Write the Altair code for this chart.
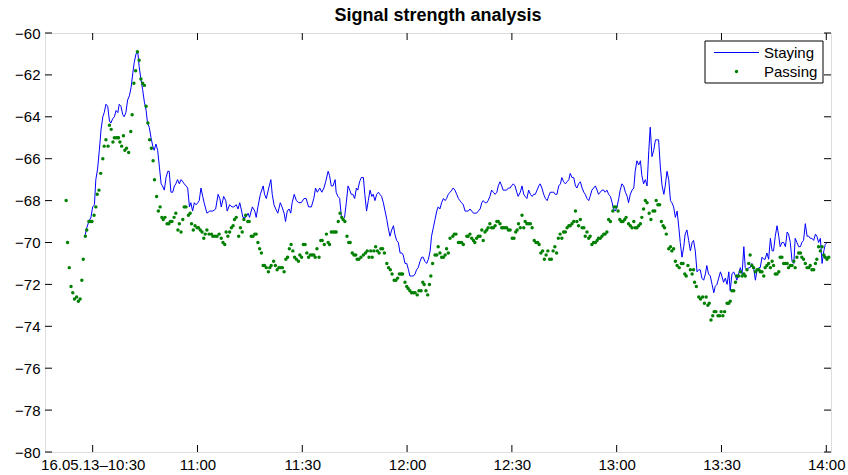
import altair as alt
import pandas as pd

title_text = "Signal strength analysis"
series_names = ["Staying", "Passing"]
series_colors = ["#0000ff", "#008000"]

# time in minutes after 16.05.13 10:30, signal strength in dBm
staying_min = [
    -2.2, -1.7, -1.1, -0.5, 0.0, 0.5, 0.9, 1.4, 1.9, 2.4,
    2.9, 3.3, 3.8, 4.3, 4.8, 5.2, 5.7, 6.2, 6.7, 7.2,
    7.6, 8.1, 8.6, 9.0, 9.5, 10.0, 10.5, 11.0, 11.5, 11.9,
    12.4, 12.9, 13.3, 13.8, 14.3, 14.8, 15.3, 15.7, 16.2, 16.7,
    17.2, 17.6, 18.1, 18.6, 19.1, 19.6, 20.0, 20.5, 21.0, 21.5,
    21.9, 22.4, 22.9, 23.4, 23.8, 24.3, 24.8, 25.3, 25.8, 26.2,
    26.7, 27.2, 27.7, 28.1, 28.6, 29.1, 29.6, 30.1, 30.5, 31.0,
    31.5, 31.9,
    32.7, 33.5, 34.4, 35.2, 35.9, 36.4, 36.8, 37.5, 38.1, 38.5,
    39.2, 39.9, 40.4, 41.1, 41.6, 42.1, 42.5, 43.0, 43.8, 44.5,
    44.9, 45.7, 46.4, 46.8, 47.3, 48.0, 48.8, 49.2, 49.7, 50.4,
    51.0, 51.4, 51.9, 52.4, 53.0, 53.7, 54.2, 54.8, 55.2, 55.7,
    56.2, 56.7, 57.1, 57.7, 58.3, 59.0, 59.7, 60.5, 61.1, 61.8,
    62.6, 63.3, 63.8, 64.3, 65.0, 65.6, 66.2, 66.7, 67.4, 67.8,
    68.3, 68.8, 69.4, 69.7, 70.2, 70.7, 71.2, 71.6, 72.1, 72.6,
    73.1, 73.6, 74.0, 74.5, 75.0, 75.5, 75.9, 76.4, 76.9,
    77.5, 77.9, 78.4, 78.9, 79.4, 79.9, 80.3, 80.8, 81.3, 81.8,
    82.2, 82.7, 83.2, 83.7, 84.2, 84.6, 85.1, 85.6, 86.1, 86.5,
    87.0, 87.5, 88.0, 88.5, 88.9, 89.4, 89.9, 90.4, 90.8, 91.3,
    91.8, 92.3, 92.7, 93.2, 93.7, 94.2, 94.6, 95.1, 95.6, 96.1,
    96.6, 97.0, 97.5, 98.0, 98.5, 98.9, 99.4, 99.9, 100.4, 100.9,
    101.3, 101.8, 102.3, 102.8, 103.2, 103.7, 104.2, 104.7, 105.1, 105.6,
    106.1, 106.6, 107.1, 107.5, 108.0, 108.5, 109.0, 109.4, 109.9, 110.4,
    110.9, 111.4, 111.8, 112.3, 112.8, 113.2, 113.7, 114.2, 114.7, 115.2,
    115.7, 116.1, 116.6, 117.1, 117.5, 118.0, 118.5, 119.0, 119.5, 119.9,
    120.4, 120.9, 121.4, 121.8,
    122.4, 122.9, 123.4, 123.8, 124.3, 124.8, 125.3, 125.8, 126.2, 126.7,
    127.2, 127.7, 128.1, 128.6, 129.1, 129.6, 130.1, 130.5, 131.0, 131.5,
    132.0, 132.4, 132.9, 133.4, 133.9, 134.3, 134.8, 135.3, 135.8, 136.3,
    136.7, 137.2, 137.7, 138.2, 138.6, 139.1, 139.6, 140.1, 140.6, 141.0,
    141.5, 142.0, 142.4, 142.9, 143.4, 143.9, 144.4, 144.8, 145.3, 145.8,
    146.3, 146.7, 147.2, 147.7, 148.2, 148.7, 149.1, 149.6, 150.1, 150.6,
    151.0, 151.5, 152.0, 152.5, 153.0, 153.4, 153.9, 154.4, 154.9, 155.3,
    155.8, 156.3, 156.8, 157.2, 157.7, 158.2, 158.7, 159.2, 159.6, 160.1,
    160.6, 161.1, 161.5, 162.0, 162.5, 163.0, 163.5, 163.9, 164.4, 164.9,
    165.4,
    165.8, 166.3, 166.8, 167.3, 167.8, 168.2, 168.7, 169.2, 169.6, 170.1,
    170.6, 171.1, 171.6, 172.0, 172.5, 173.0, 173.5, 173.9, 174.4, 174.9,
    175.4, 175.8, 176.3, 176.8, 177.3, 177.8, 178.2, 178.7, 179.2, 179.7,
    180.1, 180.6, 181.1, 181.6, 182.1, 182.5, 183.0, 183.5, 184.0, 184.4,
    184.9, 185.4, 185.9, 186.4, 186.8, 187.3, 187.8, 188.2, 188.7, 189.2,
    189.7, 190.2, 190.7, 191.1, 191.6, 192.1, 192.5, 193.0, 193.5, 194.0,
    194.5, 194.9, 195.4, 195.9, 196.4, 196.8, 197.3, 197.8, 198.3, 198.8,
    199.2, 199.7, 200.2, 200.7, 201.1, 201.6, 202.1, 202.6, 203.0, 203.5,
    204.0, 204.5, 205.0, 205.4, 205.9, 206.4, 206.9, 207.3, 207.8, 208.3,
    208.8, 209.3, 209.7, 210.2, 210.7, 211.2,
]
staying_dbm = [
    -69.7, -69.3, -69.0, -68.8, -68.3, -68.2, -67.0, -66.5, -65.6, -64.6,
    -64.0, -63.8, -63.4, -63.5, -64.2, -64.3, -64.1, -64.0, -63.7, -63.8,
    -63.4, -63.5, -63.9, -64.0, -63.8, -63.2, -63.0, -62.6, -61.9, -61.4,
    -61.0, -60.9, -61.6, -62.2, -62.7, -63.3, -63.7, -64.3, -64.5, -65.0,
    -65.4, -65.6, -65.3, -65.6, -66.4, -67.2, -67.3, -67.5, -66.9, -66.6,
    -66.6, -67.6, -67.6, -67.3, -67.2, -67.0, -67.2, -67.0, -67.1, -67.2,
    -67.3, -67.4, -68.3, -68.1, -68.5, -68.1, -68.2, -68.1, -68.0, -67.4,
    -67.8, -68.1,
    -68.6, -68.5, -68.5, -68.4, -67.7, -67.9, -68.3, -67.8, -68.0, -68.5,
    -68.2, -68.3, -68.3, -68.2, -68.4, -68.1, -68.4, -68.8, -68.8, -68.6,
    -68.8, -68.3, -68.5, -68.8, -68.3, -67.7, -67.3, -67.7, -67.9, -67.4,
    -67.0, -67.7, -68.2, -68.4, -68.6, -68.1, -68.3, -68.6, -69.0, -68.5,
    -68.4, -68.6, -68.1, -67.7, -68.0, -68.1, -68.1, -67.9, -67.9, -68.3,
    -68.3, -67.9, -67.4, -67.6, -67.4, -67.6, -67.4, -67.1, -66.6, -66.8,
    -67.3, -67.3, -67.0, -67.6, -67.8, -67.9, -68.8, -68.9, -68.8, -68.1,
    -67.3, -67.5, -67.7, -67.7, -67.9, -67.4, -67.5, -67.1, -66.9,
    -66.9, -67.7, -68.5, -68.0, -67.5, -67.8, -67.7, -68.0, -67.7, -67.6,
    -67.7, -67.8, -68.1, -68.5, -68.9, -69.3, -69.7, -69.4, -69.2, -69.6,
    -69.9, -70.0, -70.5, -70.5, -70.6, -71.0, -71.0, -71.3, -71.6, -71.6,
    -71.6, -71.5, -71.3, -71.2, -70.9, -70.7, -70.7, -70.9, -71.0, -70.8,
    -70.4, -69.7, -69.3, -68.9, -68.5, -68.3, -68.4, -68.1, -67.9, -68.0,
    -67.9, -67.7, -67.6, -67.5, -67.4, -67.5, -67.7, -67.9, -68.0, -68.1,
    -68.2, -68.5, -68.5, -68.5, -68.4, -68.5, -68.6, -68.6, -68.6, -68.5,
    -68.4, -68.1, -68.0, -68.1, -68.1, -68.0, -67.8, -67.5, -67.6, -67.7,
    -67.6, -67.3, -67.1, -67.3, -67.5, -67.5, -67.5, -67.4, -67.4, -67.3,
    -67.2, -67.3, -67.6, -67.8,
    -67.6, -67.3, -67.7, -67.8, -67.9, -67.5, -67.7, -67.8, -67.7, -67.7,
    -67.5, -67.3, -67.2, -67.4, -67.7, -67.9, -68.0, -67.8, -67.6, -67.6,
    -67.6, -67.7, -67.7, -67.3, -67.2, -66.9, -67.1, -67.2, -67.1, -67.0,
    -66.7, -66.9, -66.9, -67.3, -67.4, -67.2, -67.1, -67.4, -67.6, -67.7,
    -67.9, -68.0, -67.8, -67.5, -67.4, -67.3, -67.5, -67.7, -67.6, -67.5,
    -67.5, -67.6, -67.5, -67.7, -67.8, -68.1, -68.4, -68.5, -68.3, -67.9,
    -67.5, -67.2, -67.3, -67.6, -67.8, -68.1, -67.7, -67.5, -67.4, -66.6,
    -66.1, -66.3, -66.1, -66.8, -67.2, -67.0, -67.3, -65.6, -64.5, -65.9,
    -65.6, -65.1, -65.1, -65.1, -66.4, -67.3, -67.7, -67.3, -66.6, -67.0,
    -68.0,
    -68.1, -68.3, -68.8, -68.5, -69.3, -70.0, -70.7, -70.2, -69.6, -69.4,
    -69.9, -70.4, -70.0, -69.9, -70.4, -71.4, -71.3, -71.3, -71.7, -71.8,
    -71.5, -71.1, -71.5, -71.6, -72.0, -72.4, -72.1, -72.0, -71.7, -71.4,
    -71.6, -71.9, -71.7, -72.0, -71.4, -72.3, -71.5, -71.4, -71.6, -71.8,
    -71.5, -71.2, -71.5, -70.2, -71.2, -71.3, -71.2, -71.2, -71.0, -71.2,
    -71.8, -71.3, -71.2, -71.2, -70.7, -70.8, -70.8, -70.5, -70.8, -69.8,
    -70.4, -70.4, -69.7, -69.2, -69.7, -70.2, -70.0, -70.0, -70.2, -69.5,
    -69.6, -70.0, -70.9, -71.0, -69.8, -70.0, -70.2, -70.2, -70.0, -69.9,
    -69.1, -69.7, -69.7, -69.8, -69.8, -69.9, -69.6, -69.7, -70.0, -69.8,
    -71.0, -70.4, -70.1, -70.0, -70.0, -70.0,
]

passing_min = [
    -7.6, -7.2, -6.7, -6.2, -5.7, -5.2, -4.6, -4.1, -3.6, -3.1,
    -2.7, -2.1, -1.7, -1.1, -0.7, -0.2, 0.4, 0.9, 1.3, 1.8,
    2.3, 2.9, 3.3, 3.8, 4.4, 4.8, 5.3, 5.8, 6.2, 6.7,
    7.2, 7.4, 7.8, 8.3, 8.8, 9.2, 9.7, 10.3, 10.9, 11.3,
    11.8, 12.3, 12.8, 13.3, 13.8, 14.3, 14.8, 15.3, 15.8, 16.3,
    16.8, 17.3, 17.7, 18.3, 18.8, 19.3, 19.8, 20.2, 20.7, 21.3,
    21.8, 22.2, 22.7, 23.3, 23.8, 24.4, 24.8, 25.3, 25.8, 26.2,
    26.7, 27.4, 27.9, 28.3, 28.8, 29.3, 29.9, 30.3, 30.8, 31.3,
    31.8, 32.2,
    32.7, 33.3, 34.0, 34.4, 35.0, 35.6, 36.2, 36.8, 37.3, 37.8,
    38.2, 38.7, 39.2, 39.7, 40.2, 40.6, 41.1, 41.8, 42.3, 42.8,
    43.3, 43.8, 44.4, 44.8, 45.4, 45.9, 46.4, 46.8, 47.3, 47.8,
    48.3, 48.8, 49.2, 49.7, 50.3, 50.7, 51.1, 51.8, 52.3, 52.8,
    53.3, 53.8, 54.3, 54.8, 55.3, 55.8, 56.3, 56.8, 57.3, 57.8,
    58.3, 58.9, 59.3, 59.8, 60.3, 60.8, 61.3, 61.8, 62.3, 62.8,
    63.3, 63.7, 64.2, 64.8, 65.3, 65.7, 66.3, 66.9, 67.4, 67.8,
    68.3, 68.8, 69.3, 69.7, 70.3, 70.8, 71.3, 71.7, 72.2, 72.8,
    73.3, 73.7, 74.3, 74.8, 75.3, 75.7, 76.2, 76.8,
    77.5, 78.1, 78.6, 79.1, 79.6, 80.0, 80.5, 81.0, 81.5, 82.0,
    82.5, 83.0, 83.5, 84.2, 84.7, 85.2, 85.7, 86.3, 86.8, 87.3,
    87.8, 88.3, 88.7, 89.4, 89.9, 90.3, 90.8, 91.3, 91.8, 92.3,
    92.9, 93.4, 94.0, 94.5, 94.9, 95.4, 95.9, 96.4, 96.8, 97.3,
    98.0, 98.5, 98.9, 99.4, 99.9, 100.4, 100.9, 101.3, 101.8, 102.3,
    103.1, 103.5, 104.0, 104.7, 105.1, 105.6, 106.1, 107.1, 107.5, 108.0,
    108.5, 109.0, 109.4, 109.9, 110.4, 110.9, 111.4, 111.8, 112.3, 112.8,
    113.2, 113.7, 114.2, 114.7, 115.2, 115.7, 116.1, 116.6, 117.1, 117.5,
    118.0, 118.5, 119.0, 119.5, 120.1, 120.6, 121.1, 121.5,
    121.9, 122.4, 122.9, 123.4, 123.8, 124.3, 124.8, 125.3, 125.8, 126.4,
    126.9, 127.4, 127.8, 128.3, 128.8, 129.3, 129.8, 130.3, 130.8, 131.3,
    131.8, 132.3, 132.8, 133.3, 133.8, 134.3, 134.8, 135.3, 135.8, 136.3,
    136.7, 137.2, 137.7, 138.2, 138.6, 139.1, 139.6, 140.1, 140.6, 141.0,
    141.5, 142.0, 142.4, 142.9, 143.4, 143.9, 144.4, 144.8, 145.3, 145.8,
    146.3, 146.7, 147.2, 147.7, 148.2, 148.9, 149.3, 149.8, 150.4, 150.9,
    151.3, 151.8, 152.3, 152.7, 153.4, 153.9, 154.4, 154.9, 155.3, 155.8,
    156.3, 156.8, 157.2, 157.7, 158.2, 158.7, 159.3, 159.8, 160.4, 160.9,
    161.3, 161.8, 162.3, 162.8, 163.3, 163.7, 164.2, 164.9, 165.4, 165.8,
    166.3, 166.8,
    167.3, 167.9, 168.5, 169.0, 169.5, 169.9, 170.4, 171.1, 171.6, 172.0,
    172.3, 172.8, 173.5, 174.0, 174.6, 175.1, 175.6, 176.1, 176.5, 177.0,
    177.5, 177.9, 178.4, 179.0, 179.5, 179.9, 180.4, 180.9, 181.6, 182.1,
    182.5, 183.0, 183.5, 184.0, 184.4, 184.9, 185.4, 185.9, 186.4, 186.8,
    187.3, 187.8, 188.2, 188.7, 189.2, 189.7, 190.2, 190.7, 191.1, 191.6,
    192.1, 192.5, 193.0, 193.5, 194.0, 194.5, 194.9, 195.4, 195.9, 196.4,
    196.8, 197.3, 197.8, 198.3, 198.8, 199.2, 199.7, 200.2, 200.7, 201.1,
    201.6, 202.1, 202.6, 203.0, 203.5, 204.0, 204.5, 205.0, 205.4, 205.9,
    206.4, 206.9, 207.3, 207.8, 208.3, 208.8, 209.3, 209.7, 210.2, 210.7,
]
passing_dbm = [
    -68.0, -70.0, -71.2, -72.1, -72.4, -72.7, -72.6, -72.8, -72.7, -71.8,
    -70.8, -69.7, -69.4, -69.0, -69.0, -69.0, -68.7, -68.3, -67.7, -67.5,
    -66.7, -66.0, -65.4, -65.1, -65.4, -64.4, -64.6, -65.2, -65.0, -65.0,
    -65.0, -65.0, -65.2, -65.4, -64.9, -65.6, -65.5, -65.7, -64.7, -63.9,
    -62.4, -61.8, -60.9, -61.3, -62.2, -62.4, -62.5, -63.5, -64.3, -65.1,
    -65.5, -66.1, -67.0, -67.8, -68.5, -68.3, -68.8, -68.9, -68.8, -69.1,
    -69.1, -69.0, -69.0, -68.8, -68.6, -69.4, -69.1, -69.5, -68.9, -68.3,
    -68.3, -68.7, -68.6, -69.1, -69.4, -69.2, -69.3, -69.3, -69.4, -69.5,
    -69.8, -69.6,
    -69.4, -69.6, -69.6, -69.7, -69.7, -69.7, -69.6, -69.8, -70.0, -70.1,
    -69.5, -69.7, -69.5, -69.3, -69.2, -68.9, -68.8, -69.7, -69.3, -69.5,
    -68.9, -68.7, -69.0, -69.0, -69.7, -69.7, -69.6, -69.6, -70.0, -70.3,
    -70.5, -71.1, -71.1, -71.2, -71.4, -71.2, -71.1, -70.9, -71.1, -71.3,
    -71.2, -71.2, -71.2, -71.4, -70.8, -70.7, -70.3, -70.1, -70.4, -70.7,
    -70.8, -70.9, -70.6, -70.7, -70.1, -70.1, -70.5, -70.7, -70.6, -70.6,
    -70.6, -70.7, -70.3, -70.7, -69.9, -69.9, -70.1, -69.6, -70.0, -70.1,
    -69.5, -69.5, -69.5, -69.5, -69.0, -68.6, -68.8, -68.9, -69.0, -69.7,
    -70.0, -70.0, -70.5, -70.6, -70.6, -70.8, -70.8, -70.7,
    -70.6, -70.5, -70.4, -70.7, -70.4, -70.7, -70.4, -70.2, -70.4, -70.5,
    -70.3, -70.3, -70.5, -71.0, -71.2, -71.3, -71.5, -71.8, -71.8, -71.7,
    -71.5, -71.5, -71.5, -71.9, -72.1, -72.2, -72.3, -72.4, -72.4, -72.4,
    -72.5, -72.3, -72.3, -71.9, -72.0, -72.3, -72.5, -72.0, -71.6, -71.0,
    -70.6, -70.6, -70.2, -70.5, -70.7, -70.7, -70.6, -70.3, -70.5, -69.8,
    -69.7, -69.6, -69.6, -70.0, -70.0, -70.0, -70.1, -69.7, -69.7, -69.6,
    -69.8, -69.9, -70.0, -69.8, -69.7, -69.7, -69.4, -69.9, -69.5, -69.4,
    -69.3, -69.1, -69.3, -69.3, -69.2, -69.0, -69.0, -69.1, -69.3, -69.3,
    -69.3, -69.3, -69.4, -69.4, -69.8, -69.8, -69.5, -69.4,
    -69.1, -69.3, -68.7, -69.3, -69.0, -69.1, -69.1, -69.1, -69.3, -69.9,
    -70.0, -70.0, -70.1, -70.5, -70.4, -70.8, -70.6, -70.4, -70.8, -70.8,
    -70.4, -70.2, -70.5, -69.8, -69.6, -69.8, -69.5, -69.5, -69.3, -69.2,
    -69.2, -69.1, -69.0, -68.5, -69.0, -69.2, -68.9, -69.3, -69.3, -69.7,
    -69.5, -69.8, -69.7, -70.1, -70.0, -70.0, -69.9, -69.8, -69.8, -69.7,
    -69.6, -69.6, -69.5, -68.9, -69.0, -68.5, -68.3, -68.3, -68.5, -68.9,
    -69.0, -69.0, -68.9, -68.8, -69.1, -69.2, -69.3, -69.0, -69.3, -69.3,
    -69.2, -69.1, -68.8, -68.4, -68.0, -68.1, -68.6, -68.9, -68.5, -68.5,
    -68.0, -68.2, -68.2, -69.0, -69.2, -69.3, -69.6, -70.3, -70.2, -70.4,
    -70.3, -70.9,
    -71.1, -71.2, -71.0, -71.0, -71.5, -71.6, -71.1, -71.3, -71.5, -71.3,
    -71.9, -72.1, -72.6, -72.7, -72.6, -72.9, -72.6, -73.0, -72.9, -73.7,
    -73.5, -73.3, -73.3, -73.5, -73.5, -73.3, -73.5, -73.3, -72.9, -72.9,
    -72.8, -72.3, -72.3, -71.9, -71.6, -71.6, -71.4, -71.6, -71.5, -71.6,
    -71.3, -71.0, -70.6, -71.1, -71.2, -71.4, -71.3, -71.3, -71.4, -71.4,
    -71.6, -71.2, -71.1, -71.0, -71.2, -70.9, -71.1, -71.5, -71.5, -71.4,
    -70.7, -70.7, -71.0, -71.0, -71.0, -71.2, -71.1, -71.1, -70.9, -71.2,
    -70.7, -70.5, -70.5, -70.7, -70.8, -71.0, -71.2, -71.2, -71.1, -71.3,
    -71.3, -71.0, -70.8, -70.2, -70.4, -70.2, -70.6, -70.7, -70.8, -70.7,
]

x_tick_min = [0, 30, 60, 90, 120, 150, 180, 210]
x_tick_labels = ["16.05.13\u201310:30", "11:00", "11:30", "12:00",
                 "12:30", "13:00", "13:30", "14:00"]
y_ticks = [-80, -78, -76, -74, -72, -70, -68, -66, -64, -62, -60]
x_range_min = [-13.65, 211.35]
y_range_dbm = [-80, -60]

assert len(staying_min) == len(staying_dbm), (len(staying_min), len(staying_dbm))
assert len(passing_min) == len(passing_dbm), (len(passing_min), len(passing_dbm))

FONT = "Liberation Sans"
W, H = 786, 419
TICK = 7

staying_df = pd.DataFrame({"minute": staying_min, "dbm": staying_dbm})
passing_df = pd.DataFrame({"minute": passing_min, "dbm": passing_dbm})
xt_df = pd.DataFrame({"minute": x_tick_min})
yt_df = pd.DataFrame({"dbm": y_ticks})
one_df = pd.DataFrame({"name": series_names[:1]})

label_expr = "''"
for m, lab in reversed(list(zip(x_tick_min, x_tick_labels))):
    label_expr = f"datum.value == {m} ? '{lab}' : ({label_expr})"

x_scale = alt.Scale(domain=x_range_min, nice=False, zero=False)
y_scale = alt.Scale(domain=y_range_dbm, nice=False, zero=False)
x_axis = alt.Axis(values=x_tick_min, labelExpr=label_expr, title=None, domain=False,
                  ticks=False, grid=False, labelFontSize=15, labelFont=FONT,
                  labelColor="black", labelPadding=5, labelFlush=False, labelOverlap=False)
y_axis = alt.Axis(values=y_ticks, title=None, domain=False, ticks=False, grid=False,
                  labelFontSize=15, labelFont=FONT, labelColor="black", labelPadding=5,
                  labelFlush=False, labelOverlap=False)

X = alt.X("minute:Q", scale=x_scale, axis=x_axis)
Y = alt.Y("dbm:Q", scale=y_scale, axis=y_axis)

line = alt.Chart(staying_df).mark_line(color=series_colors[0], strokeWidth=1, clip=True).encode(x=X, y=Y)
dots = alt.Chart(passing_df).mark_circle(color=series_colors[1], size=12, opacity=1, clip=True).encode(x=X, y=Y)

tick_style = dict(color="black", strokeWidth=1)
bottom_ticks = alt.Chart(xt_df).mark_rule(**tick_style).encode(x=X, y=alt.value(H), y2=alt.value(H - TICK))
top_ticks = alt.Chart(xt_df).mark_rule(**tick_style).encode(x=X, y=alt.value(0), y2=alt.value(TICK))
left_ticks = alt.Chart(yt_df).mark_rule(**tick_style).encode(y=Y, x=alt.value(0), x2=alt.value(TICK))
right_ticks = alt.Chart(yt_df).mark_rule(**tick_style).encode(y=Y, x=alt.value(W), x2=alt.value(W - TICK))

# legend box (top right)
lx0, lx1, ly0, ly1 = 660, 778, 8, 50
leg_box = alt.Chart(one_df).mark_rect(fill="white", stroke="black", strokeWidth=1).encode(
    x=alt.value(lx0), x2=alt.value(lx1), y=alt.value(ly0), y2=alt.value(ly1))
leg_line = alt.Chart(one_df).mark_rule(color=series_colors[0], strokeWidth=1).encode(
    x=alt.value(669), x2=alt.value(714), y=alt.value(19.5))
leg_dot = alt.Chart(one_df).mark_circle(color=series_colors[1], size=12, opacity=1).encode(
    x=alt.value(691.5), y=alt.value(38.5))
leg_t1 = alt.Chart(one_df).mark_text(text=series_names[0], align="left", baseline="middle",
                                     fontSize=15, font=FONT, color="black").encode(
    x=alt.value(719), y=alt.value(19.5))
leg_t2 = alt.Chart(one_df).mark_text(text=series_names[1], align="left", baseline="middle",
                                     fontSize=15, font=FONT, color="black").encode(
    x=alt.value(719), y=alt.value(38.5))

chart = alt.layer(
    line, dots, bottom_ticks, top_ticks, left_ticks, right_ticks,
    leg_box, leg_line, leg_dot, leg_t1, leg_t2,
).properties(
    width=W, height=H,
    title=alt.TitleParams(text=title_text, fontSize=18, fontWeight="bold", font=FONT,
                          color="black", anchor="middle", offset=1),
    autosize=alt.AutoSizeParams(type="none"),
    padding={"left": 45, "top": 33, "right": 17, "bottom": 23},
).configure_view(
    stroke="black", strokeWidth=1
).configure(background="white")

chart.save("out.html", embed_options={"renderer": "svg", "actions": False})
